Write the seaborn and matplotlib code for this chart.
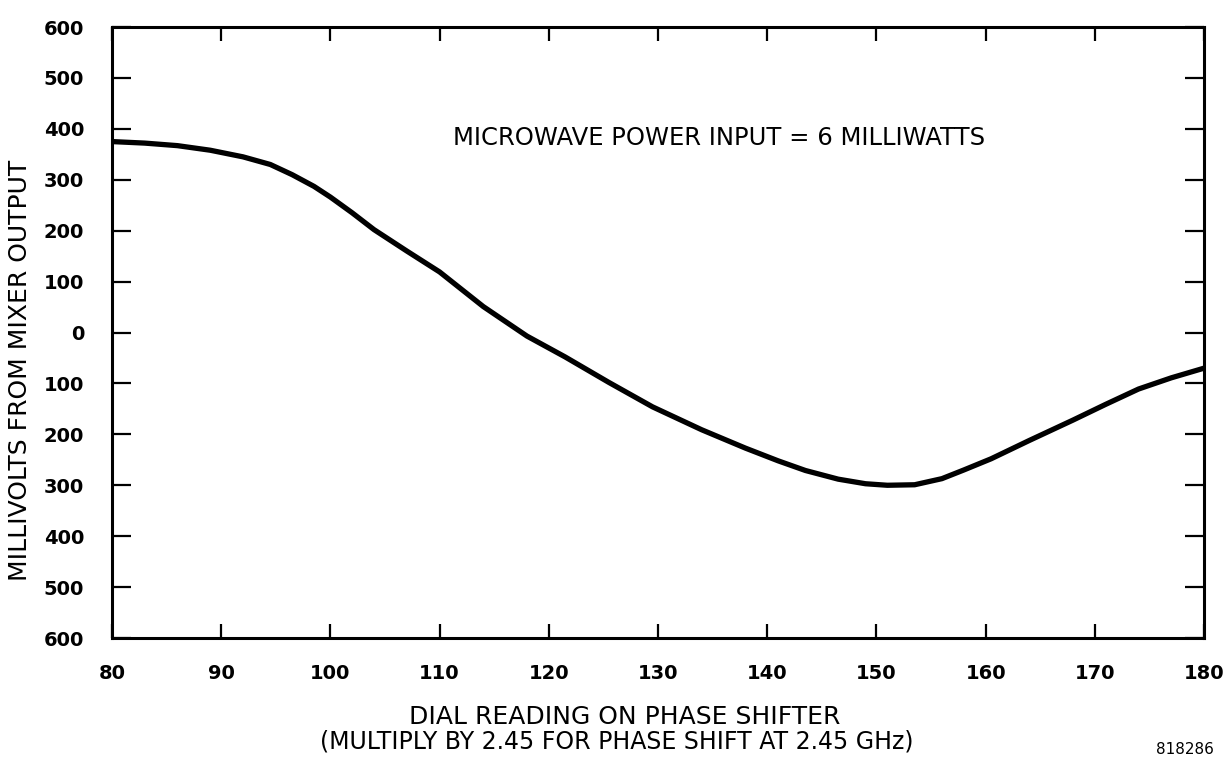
import matplotlib
matplotlib.use("Agg")
import matplotlib.pyplot as plt
import seaborn as sns
import pandas as pd

# curve
dial = [80, 83, 86, 89, 92, 94.5, 96.5, 98.5, 100, 102, 104, 107, 110, 114,
        118, 121.5, 125.5, 129.5, 134, 138, 141, 143.5, 146.5, 149, 151,
        153.5, 156, 158, 160.5, 164, 168, 171, 174, 177, 180]
mv = [375, 372, 367, 358, 345, 330, 310, 287, 266, 235, 202, 160, 119, 51,
      -7, -48, -98, -146, -191, -227, -252, -271, -288, -297, -300,
      -299, -287, -270, -248, -212, -172, -141, -111, -89, -70]

x_ticks = [80, 90, 100, 110, 120, 130, 140, 150, 160, 170, 180]
y_ticks = [600, 500, 400, 300, 200, 100, 0, -100, -200, -300, -400, -500, -600]
y_tick_labels = ["600", "500", "400", "300", "200", "100", "0",
                 "100", "200", "300", "400", "500", "600"]

sns.set_style("ticks")
plt.rcParams['font.family'] = ['DejaVu Sans']
plt.rcParams['text.color'] = 'black'
plt.rcParams['xtick.color'] = 'black'
plt.rcParams['ytick.color'] = 'black'

fig = plt.figure(figsize=(12.29, 7.63), dpi=100)
ax = fig.add_axes([0.0911, 0.1638, 0.8886, 0.8008])

df = pd.DataFrame({'dial': dial, 'mv': mv})
sns.lineplot(data=df, x='dial', y='mv', ax=ax, color='black',
             linewidth=3.8, sort=False, solid_capstyle='round',
             solid_joinstyle='round')

ax.set_xlim(80, 180)
ax.set_ylim(-600, 600)
ax.set_xticks(x_ticks)
ax.set_xticklabels([str(v) for v in x_ticks], fontsize=14, fontweight='bold')
ax.set_yticks(y_ticks)
ax.set_yticklabels(y_tick_labels, fontsize=14, fontweight='bold')

for s in ax.spines.values():
    s.set_linewidth(2.2)
    s.set_color('black')

ax.tick_params(axis='x', direction='in', top=True, bottom=True,
               length=10, width=1.6, pad=19)
ax.tick_params(axis='y', direction='in', left=True, right=True,
               length=14, width=1.6, pad=20)

ax.set_xlabel('')
ax.set_ylabel('')

ax.text(0.556, 0.818, 'MICROWAVE POWER INPUT = 6 MILLIWATTS',
        transform=ax.transAxes, ha='center', va='center', fontsize=17.5)

fig.text(0.508, 1 - 717 / 763, 'DIAL READING ON PHASE SHIFTER',
         ha='center', va='center', fontsize=18)
fig.text(0.502, 1 - 742 / 763, '(MULTIPLY BY 2.45 FOR PHASE SHIFT AT 2.45 GHz)',
         ha='center', va='center', fontsize=17)
fig.text(0.016, 1 - 370 / 763, 'MILLIVOLTS FROM MIXER OUTPUT',
         rotation=90, ha='center', va='center', fontsize=18)
fig.text(0.964, 1 - 750 / 763, '818286', ha='center', va='center', fontsize=11)

fig.savefig('out.png', dpi=100, facecolor='white')
